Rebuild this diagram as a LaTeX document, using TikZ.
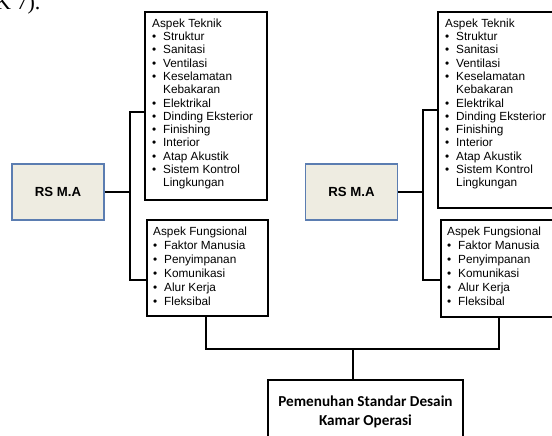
\documentclass[tikz,border=0pt]{standalone}
\usepackage{fontspec}
\setmainfont{Liberation Sans}
\newfontfamily\carl{Carlito}
\newfontfamily\tms{Liberation Serif}
\definecolor{rsfill}{HTML}{EEECE1}
\definecolor{rsdraw}{HTML}{5B7DB1}
\newcommand{\bl}[1]{\makebox[11pt][l]{\textbullet}#1}
\newcommand{\cn}[1]{\hspace*{11pt}#1}
\begin{document}
\begin{tikzpicture}[x=1pt,y=-1pt,
  rsbox/.style={draw=rsdraw,fill=rsfill,line width=1.3pt,minimum width=92pt,minimum height=56pt,inner sep=0pt,font=\fontsize{13.2}{14}\selectfont\bfseries},
  aspbox/.style={draw=black,line width=2pt,inner sep=0pt},
  asptext/.style={anchor=north west,align=left,inner sep=0pt,font=\fontsize{11.8}{13.3}\selectfont},
  fungtext/.style={anchor=north west,align=left,inner sep=0pt,font=\fontsize{11.8}{14}\selectfont},
  conn/.style={line width=2pt,draw=black},
  endbox/.style={draw=black,line width=2pt,inner sep=0pt}]
\useasboundingbox (0,0) rectangle (552,436);
\node[anchor=base west,inner sep=0pt,font=\tms\fontsize{22}{24}\selectfont] (hdr) at (-5,10) {K 7).};
% left group
\node[rsbox] (rsL) at (58,192) {RS M.A};
\node[aspbox,minimum width=122pt,minimum height=188pt] (tL) at (206,106) {};
\node[asptext] (tLt) at (152,18.5) {Aspek Teknik\\\bl{Struktur}\\\bl{Sanitasi}\\\bl{Ventilasi}\\\bl{Keselamatan}\\\cn{Kebakaran}\\\bl{Elektrikal}\\\bl{Dinding Eksterior}\\\bl{Finishing}\\\bl{Interior}\\\bl{Atap Akustik}\\\bl{Sistem Kontrol}\\\cn{Lingkungan}};
\node[aspbox,minimum width=121pt,minimum height=96pt] (fL) at (207.5,268) {};
\node[fungtext] (fLt) at (153,226.5) {Aspek Fungsional\\\bl{Faktor Manusia}\\\bl{Penyimpanan}\\\bl{Komunikasi}\\\bl{Alur Kerja}\\\bl{Fleksibal}};
% right group
\node[rsbox] (rsR) at (351.5,192) {RS M.A};
\node[aspbox,minimum width=122pt,minimum height=196pt] (tR) at (499,110) {};
\node[asptext] (tRt) at (445,18.5) {Aspek Teknik\\\bl{Struktur}\\\bl{Sanitasi}\\\bl{Ventilasi}\\\bl{Keselamatan}\\\cn{Kebakaran}\\\bl{Elektrikal}\\\bl{Dinding Eksterior}\\\bl{Finishing}\\\bl{Interior}\\\bl{Atap Akustik}\\\bl{Sistem Kontrol}\\\cn{Lingkungan}};
\node[aspbox,minimum width=121pt,minimum height=97pt] (fR) at (501.5,268.5) {};
\node[fungtext] (fRt) at (447,226.5) {Aspek Fungsional\\\bl{Faktor Manusia}\\\bl{Penyimpanan}\\\bl{Komunikasi}\\\bl{Alur Kerja}\\\bl{Fleksibal}};
% bottom
\node[endbox,minimum width=195pt,minimum height=90pt,anchor=north] (end) at (365.5,379) {};
\node[align=center,inner sep=0pt,font=\carl\bfseries\fontsize{15.2}{19}\selectfont] (endt) at (365.5,412) {Pemenuhan Standar Desain\\Kamar Operasi};
% connectors
\coordinate (jL) at (130,192);
\coordinate (jR) at (423,192);
\coordinate (bus) at (353,349);
\draw[conn] (rsL.east) -- (jL);
\draw[conn] (tL.west |- 0,112) -| (jL) |- (fL.west |- 0,280);
\draw[conn] (rsR.east) -- (jR);
\draw[conn] (tR.west |- 0,110) -| (jR) |- (fR.west |- 0,280);
\draw[conn] (fL.south -| 206,0) |- (bus) -| (fR.south -| 499,0);
\draw[conn] (bus) -- (end.north -| bus);
\end{tikzpicture}
\end{document}
